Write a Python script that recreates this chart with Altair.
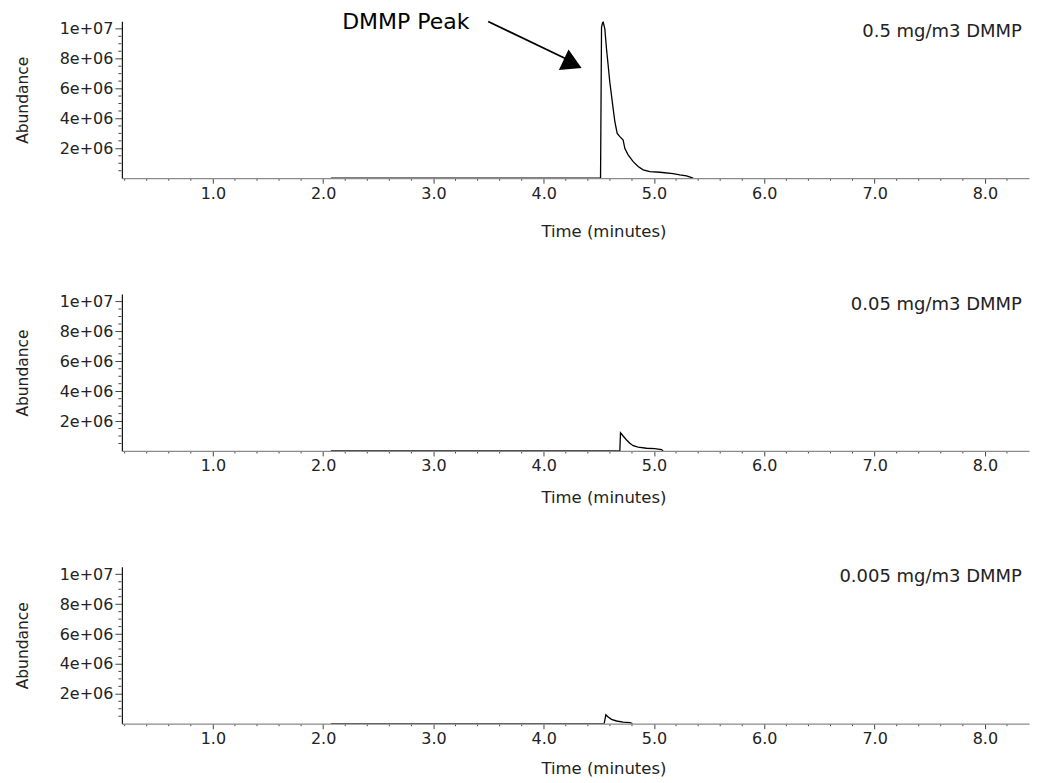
import altair as alt
import pandas as pd

# ---------------- data ----------------
panel_labels = ["0.5 mg/m3 DMMP", "0.05 mg/m3 DMMP", "0.005 mg/m3 DMMP"]

# 0.5 mg/m3 trace (time in minutes, abundance in counts)
t_05 = [2.07, 4.50, 4.515, 4.524, 4.533, 4.539, 4.554, 4.569, 4.584, 4.599, 4.614,
        4.629, 4.645, 4.666, 4.690, 4.720, 4.735, 4.765, 4.811, 4.856, 4.901,
        4.962, 5.053, 5.173, 5.234, 5.295, 5.355]
a_05 = [0.0, 0.0, 0.0, 10.1e6, 10.4e6, 10.45e6, 10.0e6, 8.67e6, 7.56e6, 6.44e6, 5.56e6,
        4.67e6, 3.78e6, 3.0e6, 2.78e6, 2.56e6, 2.0e6, 1.56e6, 1.11e6, 0.78e6, 0.56e6,
        0.44e6, 0.40e6, 0.31e6, 0.22e6, 0.16e6, 0.0]

# 0.05 mg/m3 trace
t_005 = [2.07, 4.685, 4.690, 4.696, 4.720, 4.751, 4.781, 4.811, 4.856, 4.932, 5.007, 5.068, 5.083]
a_005 = [0.0, 0.0, 0.0, 1.22e6, 1.0e6, 0.73e6, 0.51e6, 0.35e6, 0.25e6, 0.18e6, 0.15e6, 0.09e6, 0.0]

# 0.005 mg/m3 trace
t_0005 = [2.07, 4.545, 4.548, 4.563, 4.584, 4.614, 4.660, 4.720, 4.781, 4.805]
a_0005 = [0.0, 0.0, 0.0, 0.60e6, 0.45e6, 0.29e6, 0.18e6, 0.11e6, 0.07e6, 0.0]

x_major = [1, 2, 3, 4, 5, 6, 7, 8]
x_tick_labels = ["1.0", "2.0", "3.0", "4.0", "5.0", "6.0", "7.0", "8.0"]
y_major = [2e6, 4e6, 6e6, 8e6, 1e7]
y_tick_labels = ["2e+06", "4e+06", "6e+06", "8e+06", "1e+07"]

annot_text = ["DMMP Peak"]

# ---------------- helpers ----------------
X_DOMAIN = [0.175, 8.40]
Y_DOMAIN = [0, 1.05e7]
FONT = "DejaVu Sans"
W, H = 908, 157

x_minor = [round(0.2 * i, 1) for i in range(1, 42) if i % 5 != 0]
y_minor = [i * 5e5 for i in range(0, 21) if i % 4 != 0]


def label_expr(values, texts):
    parts = [f"datum.value == {v!r} ? '{s}'" for v, s in zip(values, texts)]
    return " : ".join(parts) + " : ''"


x_label_expr = label_expr([float(v) for v in x_major], x_tick_labels)
y_label_expr = label_expr(y_major, y_tick_labels)

x_scale = alt.Scale(domain=X_DOMAIN, nice=False, zero=False)
y_scale = alt.Scale(domain=Y_DOMAIN, nice=False)


def make_axes(title_y):
    x_axis = alt.Axis(
        values=x_major,
        tickCount=50,
        labelExpr=x_label_expr,
        tickSize=5,
        tickColor="#444",
        domainColor="#8a8a8a",
        domainWidth=1.3,
        labelFont=FONT,
        labelFontSize=16,
        labelColor="#222",
        labelPadding=2,
        labelFlush=False,
        labelOverlap=False,
        grid=False,
        zindex=1,
        title="Time (minutes)",
        titleFont=FONT,
        titleFontSize=16.5,
        titleFontWeight="normal",
        titleColor="#222",
        titleX=482,
        titleY=title_y,
        titleBaseline="middle",
    )
    y_axis = alt.Axis(
        values=y_major,
        tickCount=50,
        labelExpr=y_label_expr,
        tickSize=7,
        tickColor="#444",
        domainColor="#111",
        domainWidth=1.2,
        labelFont=FONT,
        labelFontSize=16,
        labelColor="#222",
        labelPadding=2,
        labelOverlap=False,
        grid=False,
        title="Abundance",
        titleFont=FONT,
        titleFontSize=15.5,
        titleFontWeight="normal",
        titleColor="#222",
        titleX=-99,
        titleY=78.5,
        titleBaseline="middle",
        titleAlign="center",
    )
    return x_axis, y_axis


def panel(times, abund, label, title_y, with_annotation=False):
    x_axis, y_axis = make_axes(title_y)

    def xq(field):
        return alt.X(f"{field}:Q", scale=x_scale, axis=x_axis)

    def yq(field):
        return alt.Y(f"{field}:Q", scale=y_scale, axis=y_axis)

    df = pd.DataFrame({"t": times, "a": abund})
    line = alt.Chart(df).mark_line(color="black", strokeWidth=1.3, clip=True).encode(
        x=xq("t"), y=yq("a")
    )

    # minor ticks on both axes
    xm = alt.Chart(pd.DataFrame({"t": x_minor})).mark_rule(color="#444", strokeWidth=1).encode(
        x=xq("t"), y=alt.value(H + 0.5), y2=alt.value(H + 2.5)
    )
    ym = alt.Chart(pd.DataFrame({"a": y_minor})).mark_rule(color="#444", strokeWidth=1).encode(
        y=yq("a"), x=alt.value(-0.5), x2=alt.value(-3.5)
    )

    lab_df = pd.DataFrame({"label": [label], "t": [8.335], "a": [9.8e6]})
    lab = alt.Chart(lab_df).mark_text(
        align="right", baseline="middle", font=FONT, fontSize=18, color="#222"
    ).encode(x=xq("t"), y=yq("a"), text="label:N")

    layers = [line, xm, ym, lab]
    if with_annotation:
        txt_df = pd.DataFrame({"label": annot_text, "t": [2.749], "a": [10.47e6]})
        txt = alt.Chart(txt_df).mark_text(
            align="center", baseline="middle", font=FONT, fontSize=22, color="black"
        ).encode(x=xq("t"), y=yq("a"), text="label:N")
        arr_df = pd.DataFrame({"t": [3.496], "t2": [4.215], "a": [10.49e6], "a2": [7.95e6]})
        arr = alt.Chart(arr_df).mark_rule(color="black", strokeWidth=1.8).encode(
            x=xq("t"), x2="t2:Q", y=yq("a"), y2="a2:Q"
        )
        head_df = pd.DataFrame({"t": [4.262], "a": [7.65e6]})
        head = alt.Chart(head_df).mark_point(
            shape="triangle-right", filled=True, color="black", opacity=1, size=520, angle=25
        ).encode(x=xq("t"), y=yq("a"))
        layers += [txt, arr, head]

    return alt.layer(*layers).properties(width=W, height=H)


chart = alt.vconcat(
    panel(t_05, a_05, panel_labels[0], 53, with_annotation=True),
    panel(t_005, a_005, panel_labels[1], 47),
    panel(t_0005, a_0005, panel_labels[2], 45),
    spacing=116,
    bounds="flush",
).properties(
    padding={"left": 7, "top": 2, "right": 5, "bottom": 5},
    background="white",
).configure_view(stroke="transparent", strokeWidth=0)

chart.save("out.html", embed_options={"renderer": "svg", "actions": False})
